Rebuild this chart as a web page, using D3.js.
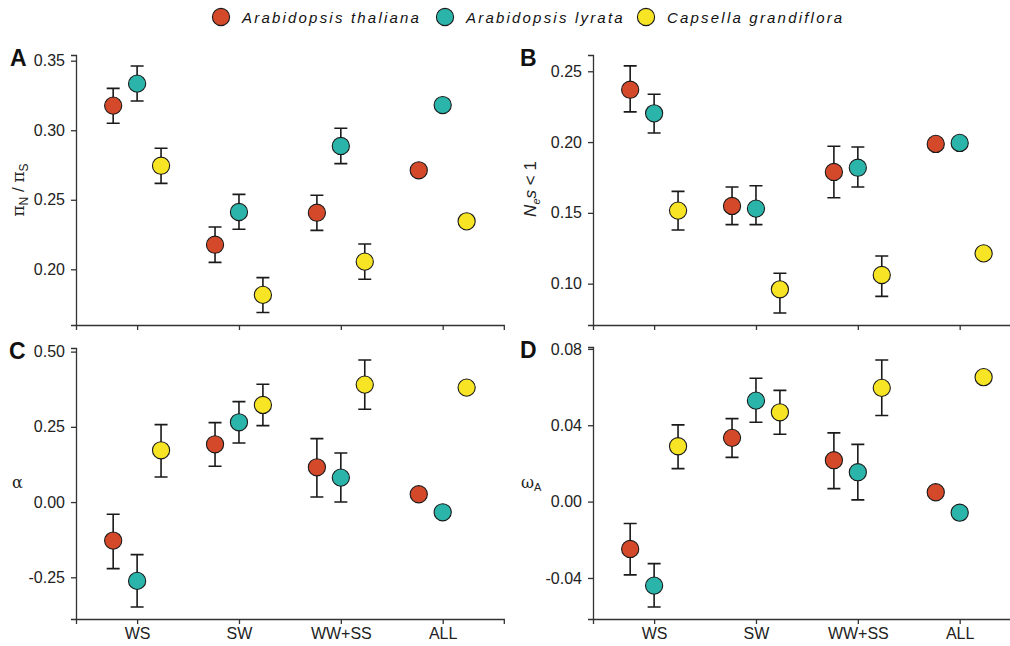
<!DOCTYPE html>
<html>
<head>
<meta charset="utf-8">
<script src="https://cdn.jsdelivr.net/npm/d3@7"></script>
<style>
  body { margin: 0; background: #fff; }
  svg { font-family: "Liberation Sans", Arial, sans-serif; }
</style>
</head>
<body>
<div id="chart"></div>
<script>
const width = 1010;
const height = 646;

const categories = ['WS', 'SW', 'WW+SS', 'ALL'];
const species = ['Arabidopsis thaliana', 'Arabidopsis lyrata', 'Capsella grandiflora'];
const colors = ['#d4492a', '#2bb5aa', '#f6e425'];

// values per species, one entry per category; lo/hi = error bar ends (null = none)
const piA_val = [[0.3177, 0.2177, 0.2407, 0.2712], [0.3335, 0.2412, 0.2887, 0.3181], [0.2745, 0.1816, 0.2055, 0.2345]];
const piA_lo = [[0.305, 0.205, 0.228, null], [0.321, 0.2288, 0.276, null], [0.2618, 0.1689, 0.1928, null]];
const piA_hi = [[0.3301, 0.2304, 0.2532, null], [0.3462, 0.2539, 0.3014, null], [0.287, 0.194, 0.2182, null]];

const nesB_val = [[0.2370, 0.1549, 0.1789, 0.1987], [0.2203, 0.1530, 0.1819, 0.1994], [0.1516, 0.0960, 0.1061, 0.1214]];
const nesB_lo = [[0.2213, 0.1417, 0.1607, null], [0.2064, 0.1417, 0.1683, null], [0.1379, 0.0793, 0.0910, null]];
const nesB_hi = [[0.2538, 0.1683, 0.1970, null], [0.2338, 0.1692, 0.1965, null], [0.1652, 0.1073, 0.1195, null]];

const alphaC_val = [[-0.128, 0.192, 0.1156, 0.0259], [-0.262, 0.2651, 0.0813, -0.034], [0.1721, 0.3228, 0.3903, 0.3804]];
const alphaC_lo = [[-0.2212, 0.119, 0.017, null], [-0.3486, 0.1965, 0.0004, null], [0.0835, 0.2541, 0.3084, null]];
const alphaC_hi = [[-0.0406, 0.264, 0.2109, null], [-0.1747, 0.3338, 0.1632, null], [0.2574, 0.3914, 0.4723, null]];

const omegaD_val = [[-0.0248, 0.0334, 0.0217, 0.0049], [-0.0440, 0.0529, 0.0154, -0.0058], [0.0290, 0.0468, 0.0596, 0.0652]];
const omegaD_lo = [[-0.0384, 0.0232, 0.0068, null], [-0.0552, 0.0416, 0.0009, null], [0.0173, 0.0353, 0.0451, null]];
const omegaD_hi = [[-0.0115, 0.0435, 0.0360, null], [-0.0325, 0.0646, 0.0300, null], [0.0402, 0.0583, 0.0742, null]];

const ticksA = [0.20, 0.25, 0.30, 0.35];
const ticksB = [0.10, 0.15, 0.20, 0.25];
const ticksC = [-0.25, 0.00, 0.25, 0.50];
const ticksD = [-0.04, 0.00, 0.04, 0.08];

const svg = d3.select('#chart')
    .append('svg')
    .attr('width', width)
    .attr('height', height);

function buildRows(val, lo, hi) {
    const rows = [];
    species.forEach((sp, s) => {
        categories.forEach((cat, c) => {
            rows.push({ sp: s, cat, v: val[s][c], lo: lo[s][c], hi: hi[s][c] });
        });
    });
    return rows;
}

function drawPanel(opts) {
    const { left, right, top, bottom, domain, ticks, fmt, letter, showX } = opts;
    const g = svg.append('g');

    const x = d3.scalePoint().domain(categories).range([left, right]).padding(0.6);
    const y = d3.scaleLinear().domain(domain).range([bottom, top]);
    const dodge = x.step() * 0.235;
    const xOf = (d) => x(d.cat) + (d.sp - 1) * dodge;

    const yAxis = g.append('g')
        .attr('transform', `translate(${left},0)`)
        .call(d3.axisLeft(y).tickValues(ticks).tickFormat(fmt).tickSizeOuter(0).tickSize(5).tickPadding(6));
    const xAxis = g.append('g')
        .attr('transform', `translate(0,${bottom})`)
        .call(d3.axisBottom(x).tickSizeOuter(0).tickSize(5).tickPadding(4));
    if (!showX) xAxis.selectAll('text').remove();

    [yAxis, xAxis].forEach((a) => {
        a.attr('font-family', '"Liberation Sans", Arial, sans-serif').attr('font-size', 16);
        a.select('.domain').attr('stroke', '#333').attr('stroke-width', 1.3);
        a.selectAll('.tick line').attr('stroke', '#333').attr('stroke-width', 1.3);
        a.selectAll('text').attr('fill', '#222');
    });

    const rows = buildRows(opts.val, opts.lo, opts.hi);
    const withErr = rows.filter((d) => d.lo !== null);

    const err = g.append('g').attr('stroke', '#1a1a1a').attr('stroke-width', 1.6).attr('fill', 'none');
    err.selectAll('path')
        .data(withErr)
        .join('path')
        .attr('d', (d) => {
            const cx = xOf(d), w = 6.5;
            return `M${cx - w},${y(d.hi)}H${cx + w}M${cx},${y(d.hi)}V${y(d.lo)}M${cx - w},${y(d.lo)}H${cx + w}`;
        });

    g.append('g').selectAll('circle')
        .data(rows)
        .join('circle')
        .attr('cx', xOf)
        .attr('cy', (d) => y(d.v))
        .attr('r', 8.6)
        .attr('fill', (d) => colors[d.sp])
        .attr('stroke', '#1a1a1a')
        .attr('stroke-width', 1.1);

    svg.append('text')
        .attr('x', opts.letterX)
        .attr('y', top + 11)
        .attr('font-size', 23)
        .attr('font-weight', 'bold')
        .attr('fill', '#111')
        .text(letter);

    return g;
}

const fmt2 = (d) => d3.format('.2f')(d).replace('−', '-');

drawPanel({ left: 76, right: 503.8, top: 55, bottom: 325, domain: [0.15995, 0.3541], ticks: ticksA, fmt: fmt2,
    val: piA_val, lo: piA_lo, hi: piA_hi, letter: 'A', letterX: 10, showX: false });
drawPanel({ left: 593, right: 1020.8, top: 55, bottom: 325, domain: [0.0708, 0.2615], ticks: ticksB, fmt: fmt2,
    val: nesB_val, lo: nesB_lo, hi: nesB_hi, letter: 'B', letterX: 520, showX: false });
drawPanel({ left: 76, right: 503.8, top: 348, bottom: 619, domain: [-0.3886, 0.512], ticks: ticksC, fmt: fmt2,
    val: alphaC_val, lo: alphaC_lo, hi: alphaC_hi, letter: 'C', letterX: 9, showX: true });
drawPanel({ left: 593, right: 1020.8, top: 347, bottom: 619, domain: [-0.0615, 0.081], ticks: ticksD, fmt: fmt2,
    val: omegaD_val, lo: omegaD_lo, hi: omegaD_hi, letter: 'D', letterX: 520, showX: true });

// y axis titles
const titleA = svg.append('text')
    .attr('transform', 'translate(24,190) rotate(-90)')
    .attr('text-anchor', 'middle')
    .attr('font-size', 17)
    .attr('fill', '#222');
titleA.append('tspan').attr('font-family', 'DejaVu Serif').text('π');
titleA.append('tspan').attr('font-size', 12).attr('dy', 4).text('N');
titleA.append('tspan').attr('dy', -4).text(' / ');
titleA.append('tspan').attr('font-family', 'DejaVu Serif').text('π');
titleA.append('tspan').attr('font-size', 12).attr('dy', 4).text('S');

const titleB = svg.append('text')
    .attr('transform', 'translate(536,189) rotate(-90)')
    .attr('text-anchor', 'middle')
    .attr('font-size', 17)
    .attr('fill', '#222');
titleB.append('tspan').attr('font-style', 'italic').text('N');
titleB.append('tspan').attr('font-style', 'italic').attr('font-size', 11).attr('dy', 4).text('e');
titleB.append('tspan').attr('font-style', 'italic').attr('dy', -4).text('s');
titleB.append('tspan').text(' < 1');

svg.append('text')
    .attr('x', 12)
    .attr('y', 488)
    .attr('font-size', 16)
    .attr('font-family', 'DejaVu Serif')
    .attr('fill', '#222')
    .text('α');

const titleD = svg.append('text')
    .attr('x', 521)
    .attr('y', 488)
    .attr('font-size', 16)
    .attr('fill', '#222');
titleD.append('tspan').attr('font-family', 'DejaVu Serif').text('ω');
titleD.append('tspan').attr('font-size', 11).attr('dy', 3).text('A');

// legend
const legendX = [221, 445, 646];
const legend = svg.append('g');
species.forEach((sp, i) => {
    legend.append('circle')
        .attr('cx', legendX[i])
        .attr('cy', 17)
        .attr('r', 8.6)
        .attr('fill', colors[i])
        .attr('stroke', '#1a1a1a')
        .attr('stroke-width', 1.1);
    legend.append('text')
        .attr('x', legendX[i] + 21)
        .attr('y', 22.5)
        .attr('font-size', 15)
        .attr('font-style', 'italic')
        .attr('letter-spacing', 2.2)
        .attr('fill', '#111')
        .text(sp);
});
</script>
</body>
</html>
